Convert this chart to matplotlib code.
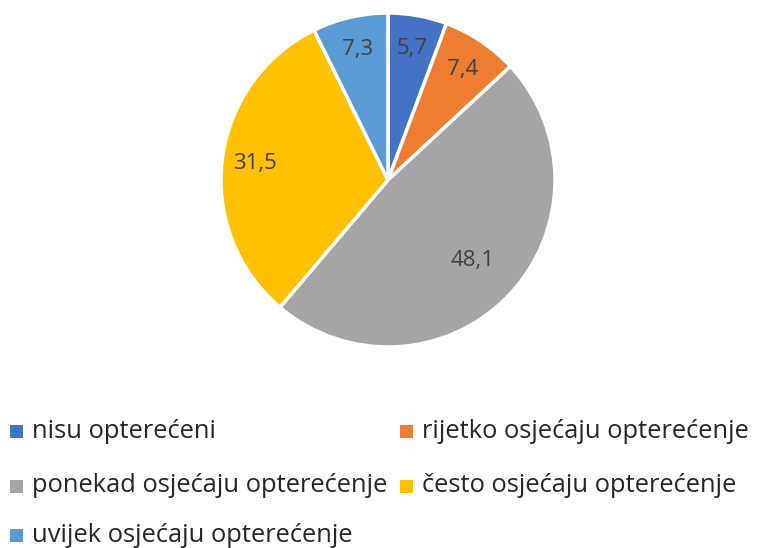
import numpy as np
import matplotlib.pyplot as plt
from matplotlib.patches import Rectangle

# categories and values (percent)
categories = ['nisu opterećeni', 'rijetko osjećaju opterećenje',
              'ponekad osjećaju opterećenje', 'često osjećaju opterećenje',
              'uvijek osjećaju opterećenje']
values = [5.7, 7.4, 48.1, 31.5, 7.3]
colors = ['#4472C4', '#ED7D31', '#A5A5A5', '#FFC000', '#5B9BD5']
label_dist = [0.8, 0.8, 0.7, 0.8, 0.8]

plt.rcParams['font.family'] = ['Open Sans', 'DejaVu Sans']

W, H = 761, 548
fig = plt.figure(figsize=(W / 100, H / 100), dpi=100)
ax = fig.add_axes([0.2904, 0.3668, 0.4389, 0.6095])

wedges, _ = ax.pie(values, colors=colors, startangle=90, counterclock=False,
                   radius=1, wedgeprops=dict(edgecolor='white', linewidth=2.5))

# value labels with decimal comma
for w, v, d in zip(wedges, values, label_dist):
    ang = np.deg2rad((w.theta1 + w.theta2) / 2)
    ax.text(d * np.cos(ang), d * np.sin(ang), f'{v:.1f}'.replace('.', ','),
            ha='center', va='center', fontsize=16, color='#404040')

ax.set_xlim(-1, 1)
ax.set_ylim(-1, 1)
ax.set_aspect('equal')
ax.axis('off')

# legend, filled row by row in two columns (pixel layout)
col_x = [10, 400]
row_y = [431, 486, 535]
for i, (name, c) in enumerate(zip(categories, colors)):
    x = col_x[i % 2]
    y = row_y[i // 2]
    fig.patches.append(Rectangle((x / W, 1 - (y + 6.5) / H), 13 / W, 13 / H,
                                 transform=fig.transFigure, facecolor=c,
                                 edgecolor='none'))
    fig.text((x + 22) / W, 1 - y / H, name, ha='left', va='center',
             fontsize=18.4, color='#262626')

plt.savefig('out.png', dpi=100)
